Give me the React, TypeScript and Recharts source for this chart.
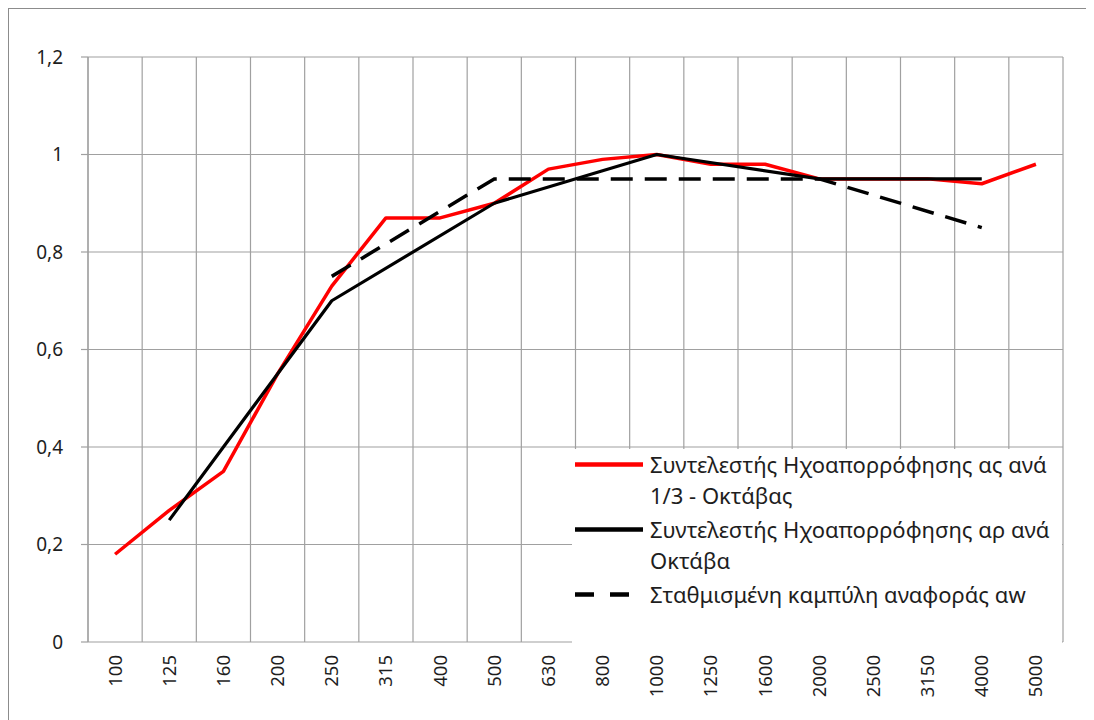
import React from 'react';
import { LineChart, Line, XAxis, YAxis, CartesianGrid, Legend } from 'recharts';

const categories = ['100', '125', '160', '200', '250', '315', '400', '500', '630', '800', '1000', '1250', '1600', '2000', '2500', '3150', '4000', '5000'];
const thirdOctave = [0.18, 0.27, 0.35, 0.55, 0.73, 0.87, 0.87, 0.9, 0.97, 0.99, 1.0, 0.98, 0.98, 0.95, 0.95, 0.95, 0.94, 0.98];
const octave = [null, 0.25, null, null, 0.7, null, null, 0.9, null, null, 1.0, null, null, 0.95, null, null, 0.95, null];
const reference = [null, null, null, null, 0.75, null, null, 0.95, null, null, 0.95, null, null, 0.95, null, null, 0.85, null];
const yTicks = [0, 0.2, 0.4, 0.6, 0.8, 1, 1.2];

const seriesNames = [
  'Συντελεστής Ηχοαπορρόφησης ας ανά 1/3 - Οκτάβας',
  'Συντελεστής Ηχοαπορρόφησης αρ ανά Οκτάβα',
  'Σταθμισμένη καμπύλη αναφοράς αw',
];
const legendLines = [
  ['Συντελεστής Ηχοαπορρόφησης ας ανά', '1/3 - Οκτάβας'],
  ['Συντελεστής Ηχοαπορρόφησης αρ ανά', 'Οκτάβα'],
  ['Σταθμισμένη καμπύλη αναφοράς αw'],
];
const seriesColors = ['#ff0000', '#000000', '#000000'];
const seriesDash = [undefined, undefined, '22 12'];
const legendDash = [undefined, undefined, '19 16'];

const data = categories.map((c, i) => ({
  x: i + 0.5,
  label: c,
  third: thirdOctave[i],
  octave: octave[i],
  ref: reference[i],
}));
const labelTicks = categories.map((_, i) => i + 0.5);
const gridTicks = Array.from({ length: categories.length + 1 }, (_, i) => i);

const FONT = "'Noto Sans', 'DejaVu Sans', sans-serif";
const GRID = '#a0a0a0';
const TEXT = '#1e1e1e';

const XTick = (props: any) => {
  const { x, y, payload } = props;
  const idx = Math.round(payload.value - 0.5);
  return (
    <text
      x={x}
      y={y}
      transform={`rotate(-90 ${x} ${y})`}
      textAnchor="end"
      dy="0.35em"
      fontSize={18.5}
      fill={TEXT}
      fontFamily={FONT}
    >
      {categories[idx]}
    </text>
  );
};

const EmptyTick = () => <g />;

const LegendBox = () => (
  <div style={{ width: '100%', height: '100%', background: '#fff', fontFamily: FONT, fontSize: 22, color: TEXT, paddingTop: 0, boxSizing: 'border-box' }}>
    {legendLines.map((lines, i) => (
      <div key={i} style={{ display: 'flex', alignItems: 'flex-start', marginBottom: 3 }}>
        <svg width={78} height={31} style={{ flex: '0 0 auto' }}>
          <line x1={3} x2={71} y1={15.5} y2={15.5} stroke={seriesColors[i]} strokeWidth={4.5} strokeDasharray={legendDash[i]} />
        </svg>
        <div style={{ lineHeight: '31px', whiteSpace: 'nowrap' }}>
          {lines.map((l, j) => (
            <div key={j}>{l}</div>
          ))}
        </div>
      </div>
    ))}
  </div>
);

export default function App() {
  return (
    <div style={{ position: 'relative', width: 1086, height: 712, borderTop: '1px solid #8c8c8c', borderLeft: '1px solid #8c8c8c', boxSizing: 'border-box', background: '#fff' }}>
      <style>{`html,body{overflow:hidden;background:#fff}`}</style>
      <LineChart width={1085} height={711} data={data} margin={{ top: 48, right: 31, bottom: 0, left: 0 }}>
        <CartesianGrid xAxisId="grid" stroke={GRID} strokeWidth={1.2} />
        <XAxis
          xAxisId="grid"
          type="number"
          dataKey="x"
          domain={[0, categories.length]}
          ticks={gridTicks}
          height={0}
          tick={<EmptyTick />}
          tickSize={7}
          tickLine={{ stroke: GRID, strokeWidth: 1.2 }}
          axisLine={{ stroke: GRID, strokeWidth: 1.2 }}
          interval={0}
        />
        <XAxis
          xAxisId="lab"
          type="number"
          dataKey="x"
          domain={[0, categories.length]}
          ticks={labelTicks}
          height={78}
          tickSize={0}
          tickMargin={13}
          tickLine={false}
          axisLine={false}
          tick={<XTick />}
          interval={0}
        />
        <YAxis
          domain={[0, 1.2]}
          ticks={yTicks}
          width={79}
          tickSize={7}
          tickMargin={18}
          tickLine={{ stroke: GRID, strokeWidth: 1.2 }}
          axisLine={{ stroke: GRID, strokeWidth: 1.2 }}
          tick={{ fontSize: 19, fill: TEXT, fontFamily: FONT }}
          tickFormatter={(v: number) => String(v).replace('.', ',')}
          interval={0}
        />
        <Line xAxisId="grid" dataKey="third" name={seriesNames[0]} stroke={seriesColors[0]} strokeWidth={3.5} dot={false} activeDot={false} isAnimationActive={false} strokeLinejoin="round" />
        <Line xAxisId="grid" dataKey="octave" name={seriesNames[1]} stroke={seriesColors[1]} strokeWidth={3.2} dot={false} activeDot={false} connectNulls isAnimationActive={false} strokeLinejoin="round" />
        <Line xAxisId="grid" dataKey="ref" name={seriesNames[2]} stroke={seriesColors[2]} strokeWidth={3.5} strokeDasharray={seriesDash[2]} dot={false} activeDot={false} connectNulls isAnimationActive={false} />
        <Legend
          layout="vertical"
          align="center"
          verticalAlign="middle"
          content={<LegendBox />}
          wrapperStyle={{ position: 'absolute', left: 563, top: 440, width: 490, height: 195, margin: 0, padding: 0 }}
        />
      </LineChart>
    </div>
  );
}
